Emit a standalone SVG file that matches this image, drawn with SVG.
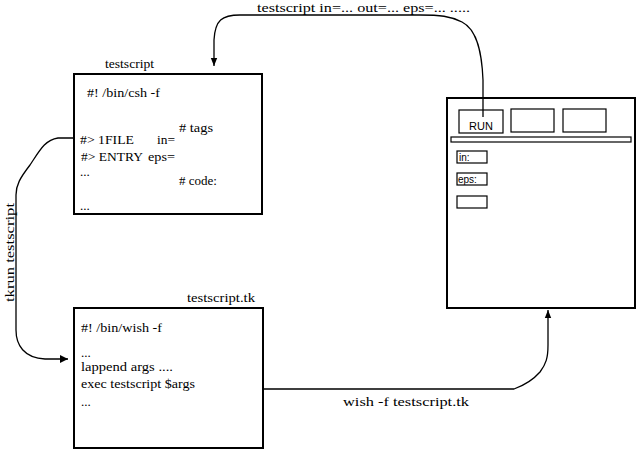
<svg xmlns="http://www.w3.org/2000/svg" width="636" height="449" viewBox="0 0 636 449">
<style>
text{font-family:"Liberation Serif","Times New Roman",serif;font-size:13px;fill:#000}
.box{fill:none;stroke:#000;stroke-width:2}
.w{fill:none;stroke:#000;stroke-width:1.2}
.c{fill:none;stroke:#000;stroke-width:1.3}
.s{font-family:"Liberation Sans",Arial,sans-serif;font-size:11px}
</style>
<defs>
<marker id="ah" viewBox="0 0 10 10" refX="10" refY="5" markerWidth="8" markerHeight="22" markerUnits="userSpaceOnUse" orient="auto">
<path d="M0,1 L10,5 L0,9 Z" fill="#000"/>
</marker>
<marker id="ahw" viewBox="0 0 10 10" refX="10" refY="5" markerWidth="22" markerHeight="8" markerUnits="userSpaceOnUse" orient="auto">
<path d="M0,0 L10,5 L0,10 Z" fill="#000"/>
</marker>
</defs>
<rect width="636" height="449" fill="#fff"/>
<g id="connectors">
<path class="c" d="M483,117 L483,80 C482,55 478,30 462,22 C450,16 440,15 420,15 L240,15 C222,15 215,20 214,40 L214,66" marker-end="url(#ah)"/>
<path class="c" d="M74,138 L58,138 C45,140 40,150 30,165 C20,178 16,185 16,195 L16,330 C16,345 24,358 45,359 L68,359" marker-end="url(#ahw)"/>
<path class="c" d="M263,389 L514,389 C525,385 533,380 540,372 C546,364 548,358 548,345 L548,310" marker-end="url(#ah)"/>
<text x="257" y="12" textLength="213" lengthAdjust="spacingAndGlyphs">testscript in=... out=... eps=...  .....</text>
<text transform="translate(14,302) rotate(-90)" textLength="99" lengthAdjust="spacingAndGlyphs">tkrun testscript</text>
<text x="343" y="406" textLength="126" lengthAdjust="spacingAndGlyphs">wish -f testscript.tk</text>
</g>
<g id="testscript">
<rect class="box" x="74" y="74" width="188" height="140"/>
<text x="105" y="68" textLength="49" lengthAdjust="spacingAndGlyphs">testscript</text>
<text x="87" y="97" textLength="73" lengthAdjust="spacingAndGlyphs">#! /bin/csh -f</text>
<text x="179" y="132" textLength="34" lengthAdjust="spacingAndGlyphs"># tags</text>
<text x="80" y="144" textLength="54" lengthAdjust="spacingAndGlyphs">#&gt; 1FILE</text>
<text x="157" y="144" textLength="18" lengthAdjust="spacingAndGlyphs">in=</text>
<text x="81" y="161" textLength="62" lengthAdjust="spacingAndGlyphs">#&gt; ENTRY</text>
<text x="148" y="161" textLength="27" lengthAdjust="spacingAndGlyphs">eps=</text>
<text x="80" y="176">...</text>
<text x="179" y="185" textLength="38" lengthAdjust="spacingAndGlyphs"># code:</text>
<text x="80" y="210">...</text>
</g>
<g id="testscript-tk">
<rect class="box" x="74" y="308" width="189" height="140"/>
<text x="187" y="302" textLength="68" lengthAdjust="spacingAndGlyphs">testscript.tk</text>
<text x="81" y="332" textLength="81" lengthAdjust="spacingAndGlyphs">#! /bin/wish  -f</text>
<text x="81" y="357">...</text>
<text x="81" y="371" textLength="92" lengthAdjust="spacingAndGlyphs">lappend args ....</text>
<text x="81" y="388" textLength="114" lengthAdjust="spacingAndGlyphs">exec testscript $args</text>
<text x="81" y="406">...</text>
</g>
<g id="gui">
<rect class="box" x="447" y="98" width="188" height="210"/>
<rect class="w" x="459" y="110" width="44" height="23"/>
<text class="s" x="469" y="130">RUN</text>
<rect class="w" x="511" y="109" width="43" height="23"/>
<rect class="w" x="563" y="109" width="43" height="23"/>
<rect class="w" x="451" y="137" width="180" height="5"/>
<rect class="w" x="457" y="151" width="30" height="12"/>
<text class="s" x="459" y="161" style="font-size:10px">in:</text>
<rect class="w" x="457" y="173" width="30" height="12"/>
<text class="s" x="458" y="183" style="font-size:10px">eps:</text>
<rect class="w" x="457" y="196" width="30" height="12"/>
</g>
</svg>
